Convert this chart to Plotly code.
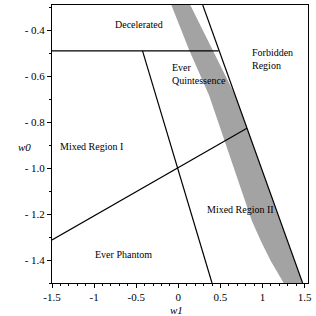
import plotly.graph_objects as go

# Region boundary lines (w1, w0)
decel_w1 = [-1.5, 0.48]
decel_w0 = [-0.49, -0.49]

steep_w1 = [-0.425, 0.40]
steep_w0 = [-0.49, -1.5]

cross_w1 = [-1.5, 0.815]
cross_w0 = [-1.313, -0.826]

bound_w1 = [0.29, 1.476]
bound_w0 = [-0.29, -1.5]

# Gray band: left edge (top->bottom), then right edge (bottom->top)
band_left_w1 = [-0.083, 0.130, 0.366, 0.567, 0.767, 0.874, 0.980, 1.098, 1.251]
band_left_w0 = [-0.29, -0.487, -0.684, -0.902, -1.121, -1.230, -1.317, -1.404, -1.5]
band_right_w1 = [1.476, 0.676, 0.413, 0.142]
band_right_w0 = [-1.5, -0.684, -0.487, -0.29]

# Region labels
label_text = ["Decelerated", "Ever<br>Quintessence", "Forbidden<br>Region",
              "Mixed Region I", "Mixed Region II", "Ever Phantom"]
label_w1 = [-0.466, -0.094, 0.85, -1.43, 0.744, -0.655]
label_w0 = [-0.374, -0.592, -0.524, -0.907, -1.182, -1.374]
label_anchor = ["center", "left", "left", "left", "center", "center"]

x_tickvals = [-1.5, -1, -0.5, 0, 0.5, 1, 1.5]
x_ticktext = ["-1.5", "-1", "-0.5", "0", "0.5", "1", "1.5"]
y_tickvals = [-1.4, -1.2, -1.0, -0.8, -0.6, -0.4]
y_ticktext = ["- 1.4", "- 1.2", "- 1.0", "- 0.8", "- 0.6", "- 0.4"]

FONT = "Liberation Serif, Times New Roman, serif"

fig = go.Figure()
fig.add_trace(go.Scatter(
    x=band_left_w1 + band_right_w1, y=band_left_w0 + band_right_w0,
    fill="toself", fillcolor="#a3a3a3", mode="lines", line=dict(width=0),
    hoverinfo="skip", showlegend=False))
for xs, ys in [(decel_w1, decel_w0), (steep_w1, steep_w0),
               (cross_w1, cross_w0), (bound_w1, bound_w0)]:
    fig.add_trace(go.Scatter(x=xs, y=ys, mode="lines",
                             line=dict(color="black", width=1.2),
                             showlegend=False, hoverinfo="skip"))

for t, x, y, a in zip(label_text, label_w1, label_w0, label_anchor):
    fig.add_annotation(x=x, y=y, text=t, showarrow=False, xanchor=a,
                       yanchor="middle", align="left",
                       font=dict(family=FONT, size=10, color="black"))

fig.add_annotation(xref="paper", yref="paper", x=-0.14, y=0.489, text="<i>w0</i>",
                   showarrow=False, font=dict(family=FONT, size=11, color="black"))
fig.add_annotation(xref="paper", yref="paper", x=0.488, y=-0.068, text="<i>w1</i>",
                   showarrow=False, yanchor="top",
                   font=dict(family=FONT, size=11, color="black"))

fig.update_xaxes(range=[-1.5, 1.54], tickvals=x_tickvals, ticktext=x_ticktext,
                 ticks="outside", ticklen=4, tickcolor="black", automargin=False,
                 minor=dict(dtick=0.1, ticks="outside", ticklen=2, tickcolor="black"),
                 showline=True, linecolor="black", linewidth=1, mirror=True,
                 showgrid=False, zeroline=False,
                 tickfont=dict(family=FONT, size=11, color="black"))
fig.update_yaxes(range=[-1.5, -0.29], tickvals=y_tickvals, ticktext=y_ticktext,
                 ticks="outside", ticklen=4, tickcolor="black", automargin=False,
                 minor=dict(dtick=0.1, ticks="outside", ticklen=2, tickcolor="black"),
                 showline=True, linecolor="black", linewidth=1, mirror=True,
                 showgrid=False, zeroline=False,
                 tickfont=dict(family=FONT, size=11, color="black"))

fig.update_layout(width=316, height=316, margin=dict(l=52, r=8, t=5, b=33),
                  paper_bgcolor="white", plot_bgcolor="white")
fig.write_html("out.html", config={"displayModeBar": False},
               post_script="document.body.style.margin='0';document.body.style.overflow='hidden';")
